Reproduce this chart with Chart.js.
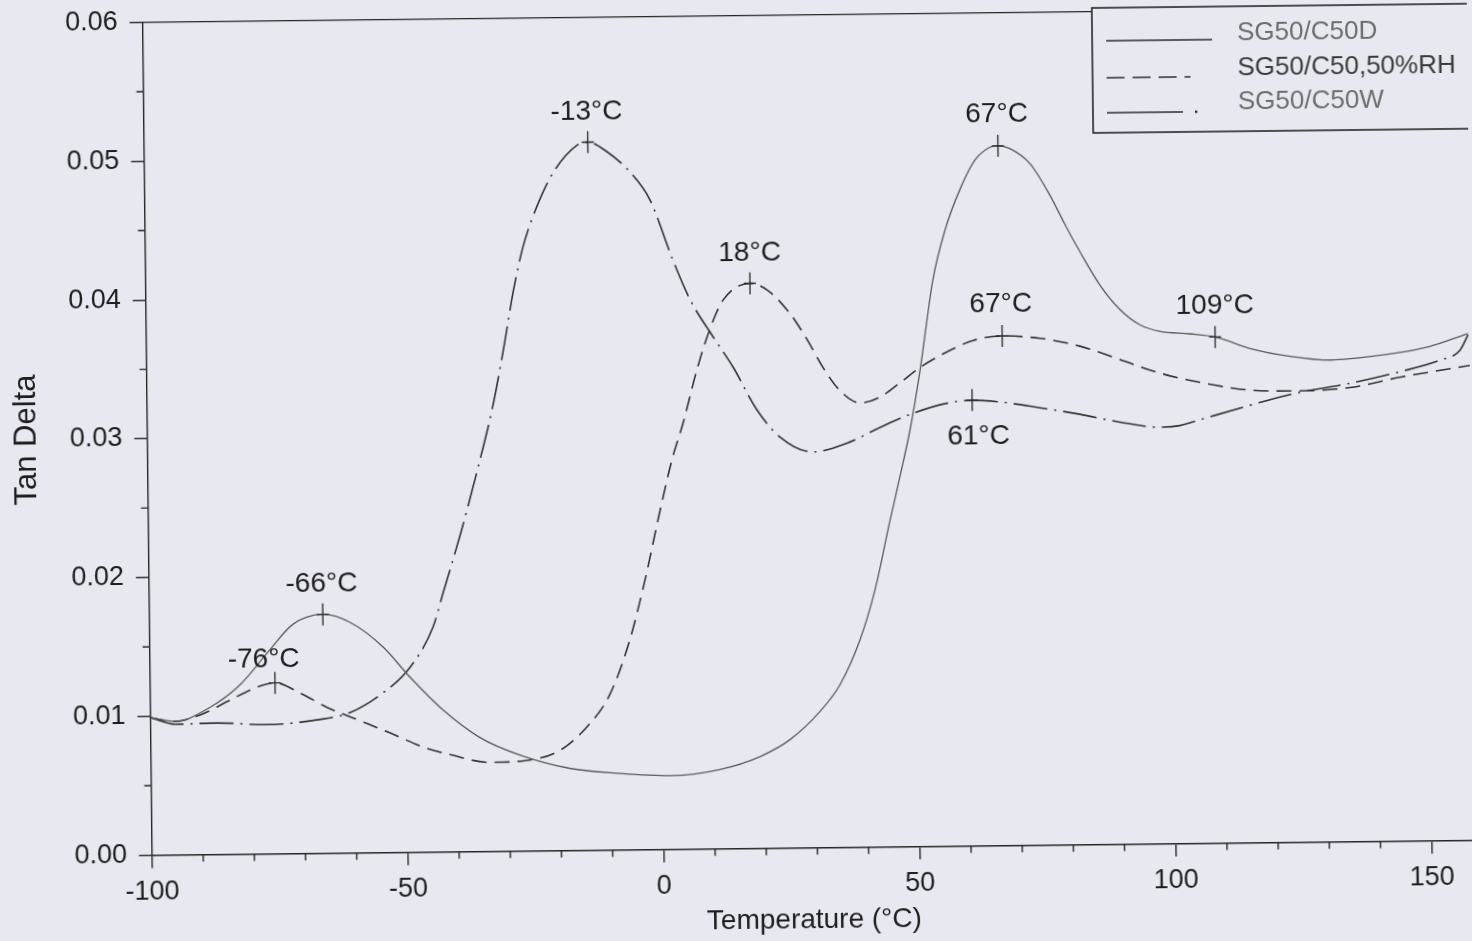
<!DOCTYPE html>
<html>
<head>
<meta charset="utf-8">
<script src="https://cdn.jsdelivr.net/npm/chart.js@4.4.1/dist/chart.umd.min.js"></script>
<style>
html,body{margin:0;padding:0;background:#e8e8f0;overflow:hidden;width:1472px;height:941px}
#wrap{position:absolute;left:0;top:0;width:1472px;height:941px;transform:rotate(-0.648deg);transform-origin:736px 470.5px}
canvas{display:block}
</style>
</head>
<body>
<div id="wrap"><canvas id="c" width="1472" height="941"></canvas></div>
<script>
// ---------------- data ----------------
const seriesNames = ['SG50/C50D', 'SG50/C50,50%RH', 'SG50/C50W'];

const tempD = [-100, -95.2, -88.3, -82.4, -76.5, -72.0, -66.1, -60.8, -54.4, -49.2, -42.8, -35.7, -27.9, -18.2, -8.4, 1.3, 11.1, 19.0, 24.9, 30.8, 34.75, 38.75, 41.8, 44.9, 46.9, 49.0, 51.1, 53.8, 56.3, 59.3, 62.3, 65.2, 66.8, 69.1, 73.0, 76.85, 79.7, 82.6, 86.4, 90.3, 94.1, 98.0, 103.9, 108.8, 115.6, 123.4, 131.2, 140.9, 150.7, 158.2];
const tanDeltaD = [0.0099, 0.0096, 0.0106, 0.0122, 0.0147, 0.0165, 0.0172, 0.0166, 0.0148, 0.0126, 0.0102, 0.0082, 0.0069, 0.0059, 0.0055, 0.0053, 0.0057, 0.0066, 0.0078, 0.0098, 0.0117, 0.0149, 0.0185, 0.0235, 0.0266, 0.0300, 0.0343, 0.0408, 0.0444, 0.0473, 0.0494, 0.0503, 0.0504, 0.0502, 0.0491, 0.0468, 0.0447, 0.0427, 0.0403, 0.0385, 0.0374, 0.0369, 0.0367, 0.03645, 0.0356, 0.0350, 0.0347, 0.0350, 0.0356, 0.0365];

const tempRH = [-100, -95.2, -90.3, -84.4, -79.5, -75.6, -70.7, -65.5, -59.7, -53.2, -46.8, -41.6, -33.8, -26.9, -20.1, -14.2, -10.2, -6.2, -3.1, 0.0, 2.4, 4.7, 7.5, 10.1, 12.75, 18.06, 21.4, 25.8, 29.1, 32.1, 35.4, 39.3, 43.2, 47.1, 51.1, 56.4, 61.5, 67.2, 74.6, 82.4, 90.2, 97.9, 105.7, 115.5, 125.2, 135.0, 144.8, 158.5];
const tanDeltaRH = [0.0099, 0.0096, 0.01005, 0.0111, 0.01195, 0.0123, 0.01155, 0.0105, 0.0096, 0.0086, 0.00756, 0.0070, 0.0064, 0.0065, 0.0072, 0.0091, 0.0112, 0.0151, 0.0194, 0.0244, 0.0280, 0.0307, 0.0345, 0.0374, 0.0395, 0.0407, 0.0402, 0.0385, 0.0366, 0.0346, 0.0329, 0.0320, 0.0324, 0.0334, 0.0345, 0.0356, 0.0364, 0.0367, 0.0365, 0.0359, 0.0349, 0.0339, 0.0332, 0.0326, 0.0325, 0.0327, 0.0334, 0.0342];

const tempW = [-100, -95.2, -87.0, -77.3, -67.5, -61.0, -54.5, -49.2, -44.6, -42.6, -39.1, -35.5, -32.6, -30.3, -28.25, -26.2, -23.4, -20.2, -15.4, -13.3, -9.6, -5.1, -1.3, 3.1, 6.3, 10.7, 14.55, 19.1, 23.6, 30.0, 36.65, 43.1, 49.6, 56.3, 61.2, 66.6, 74.4, 82.2, 90.0, 97.8, 101.7, 105.6, 115.4, 125.2, 135.0, 144.8, 152.7, 156.6, 158.2];
const tanDeltaW = [0.0099, 0.0094, 0.00946, 0.0093, 0.0096, 0.0101, 0.0115, 0.0133, 0.0162, 0.0186, 0.0228, 0.0276, 0.0318, 0.0360, 0.0402, 0.0435, 0.0464, 0.0488, 0.0508, 0.0510, 0.0503, 0.0488, 0.0468, 0.0424, 0.0396, 0.0369, 0.0347, 0.0316, 0.0296, 0.0285, 0.0291, 0.0302, 0.0312, 0.0319, 0.0321, 0.03195, 0.0315, 0.0310, 0.0304, 0.0300, 0.0301, 0.0305, 0.0315, 0.0324, 0.0330, 0.0338, 0.0346, 0.0353, 0.0364];

const xTickValues = [-100, -50, 0, 50, 100, 150];
const yTickValues = [0, 0.01, 0.02, 0.03, 0.04, 0.05, 0.06];

const peakLabels = ['-66\u00B0C', '-76\u00B0C', '-13\u00B0C', '18\u00B0C', '67\u00B0C', '67\u00B0C', '109\u00B0C', '61\u00B0C'];
const peakTemps = [-66.1, -75.6, -13.3, 18.06, 66.8, 67.2, 108.8, 61.2];
const peakValues = [0.0172, 0.0123, 0.0510, 0.0407, 0.0504, 0.0367, 0.03645, 0.0321];

// ---------------- styles ----------------
const FONT = "'Liberation Sans', Arial, Helvetica, sans-serif";
const INK = '#262626';
const BG = '#e8e8f0';

function pts(xs, ys) { return xs.map((t, i) => ({ x: t, y: ys[i] })); }

const common = { pointRadius: 0, pointHoverRadius: 0, fill: false, cubicInterpolationMode: 'monotone' };
const datasets = [
  Object.assign({ label: seriesNames[0], data: pts(tempD, tanDeltaD), borderColor: '#5a5a5a', borderWidth: 1.3, borderDash: [] }, common),
  Object.assign({ label: seriesNames[1], data: pts(tempRH, tanDeltaRH), borderColor: '#333333', borderWidth: 1.6, borderDash: [15, 8] }, common),
  Object.assign({ label: seriesNames[2], data: pts(tempW, tanDeltaW), borderColor: '#333333', borderWidth: 1.6, borderDash: [34, 7, 2, 7] }, common)
];

const decor = {
  id: 'decor',
  afterDraw(chart, args, o) {
    const { ctx, chartArea: a, scales: { x, y } } = chart;
    ctx.save();
    ctx.strokeStyle = INK;
    ctx.lineWidth = 1.4;
    ctx.setLineDash([]);
    // top frame line
    ctx.beginPath();
    ctx.moveTo(a.left, a.top);
    ctx.lineTo(a.right + 4, a.top);
    ctx.stroke();
    // minor ticks
    ctx.beginPath();
    for (let v = x.min + 10; v < x.max; v += 10) {
      if (Math.abs(v % 50) < 1e-9) continue;
      const px = x.getPixelForValue(v);
      ctx.moveTo(px, a.bottom);
      ctx.lineTo(px, a.bottom + o.minorLen);
    }
    for (let k = 1; k < 12; k += 2) {
      const py = y.getPixelForValue(k * 0.005);
      ctx.moveTo(a.left, py);
      ctx.lineTo(a.left - o.minorLen, py);
    }
    ctx.stroke();

    // peak markers and labels
    ctx.lineWidth = 1.3;
    ctx.font = o.peakFont;
    ctx.fillStyle = '#1e1e1e';
    ctx.textAlign = 'center';
    ctx.textBaseline = 'middle';
    peakTemps.forEach((t, i) => {
      const px = x.getPixelForValue(t);
      const py = y.getPixelForValue(peakValues[i]);
      ctx.beginPath();
      ctx.moveTo(px, py - 11);
      ctx.lineTo(px, py + 11);
      ctx.moveTo(px - 6, py);
      ctx.lineTo(px + 6, py);
      ctx.stroke();
      const off = o.labelOffsets[i];
      ctx.fillText(peakLabels[i], px + off[0], py + off[1]);
    });

    // legend
    const L = o.legend;
    ctx.fillStyle = BG;
    ctx.fillRect(L.x, L.y, L.w, L.h);
    ctx.lineWidth = 1.6;
    ctx.strokeStyle = INK;
    ctx.strokeRect(L.x, L.y, L.w, L.h);
    ctx.textAlign = 'left';
    ctx.textBaseline = 'middle';
    ctx.font = L.font;
    datasets.forEach((ds, i) => {
      const ly = L.lineY[i];
      ctx.strokeStyle = '#2e2e2e';
      ctx.lineWidth = 1.6;
      ctx.beginPath();
      if (i === 0) {
        ctx.setLineDash([]);
        ctx.moveTo(L.lineX0, ly); ctx.lineTo(L.lineX0 + 106, ly);
        ctx.stroke();
      } else if (i === 1) {
        ctx.setLineDash([18, 8]);
        ctx.moveTo(L.lineX0, ly); ctx.lineTo(L.lineX0 + 84, ly);
        ctx.stroke();
      } else {
        ctx.setLineDash([]);
        ctx.moveTo(L.lineX0, ly); ctx.lineTo(L.lineX0 + 76, ly);
        ctx.stroke();
        ctx.fillStyle = '#2e2e2e';
        ctx.fillRect(L.lineX0 + 88, ly - 1.2, 2.4, 2.4);
      }
      ctx.fillStyle = L.textColors[i];
      ctx.fillText(ds.label, L.textX, L.textY[i]);
    });
    ctx.restore();
  }
};

new Chart(document.getElementById('c'), {
  type: 'line',
  data: { datasets },
  plugins: [decor],
  options: {
    responsive: false,
    animation: false,
    events: [],
    layout: { autoPadding: false, padding: { left: 0, top: 0, right: 1, bottom: 0 } },
    plugins: {
      legend: { display: false },
      tooltip: { enabled: false },
      decor: {
        minorLen: 7,
        peakFont: '28px ' + FONT,
        labelOffsets: [[-1, -30], [-11, -23], [-1, -30], [0, -30], [-1, -32], [-1, -32], [0, -31], [6, 36]],
        legend: {
          x: 1097, y: 12, w: 420, h: 125,
          lineX0: 1111, lineY: [45, 82, 117],
          textX: 1242, textY: [39, 74, 108],
          font: '26px ' + FONT,
          textColors: ['#6e6e6e', '#3a3a3a', '#6e6e6e']
        }
      }
    },
    scales: {
      x: {
        type: 'linear',
        min: -100,
        max: 158.5,
        afterFit: s => { s.height = 92.6; },
        afterBuildTicks: s => { s.ticks = xTickValues.map(v => ({ value: v })); },
        ticks: { font: { family: FONT, size: 27 }, color: '#1e1e1e', padding: 8, maxRotation: 0, autoSkip: false },
        grid: { display: true, drawOnChartArea: false, drawTicks: true, tickLength: 13, color: INK, lineWidth: 1.4 },
        border: { display: true, color: INK, width: 1.4 },
        title: { display: true, text: 'Temperature (\u00B0C)', font: { family: FONT, size: 28 }, color: '#1e1e1e', padding: { top: 0, bottom: 3 } }
      },
      y: {
        type: 'linear',
        min: 0,
        max: 0.06,
        afterFit: s => { s.width = 147.7; },
        afterBuildTicks: s => { s.ticks = yTickValues.map(v => ({ value: v })); },
        ticks: { font: { family: FONT, size: 27, lineHeight: 0.2667 }, color: '#1e1e1e', padding: 12, callback: v => Number(v).toFixed(2), autoSkip: false },
        grid: { display: true, drawOnChartArea: false, drawTicks: true, tickLength: 13, color: INK, lineWidth: 1.4 },
        border: { display: true, color: INK, width: 1.4 },
        title: { display: true, text: 'Tan Delta', font: { family: FONT, size: 31 }, color: '#1e1e1e', padding: { top: 9, bottom: 0 } }
      }
    }
  }
});
</script>
</body>
</html>
